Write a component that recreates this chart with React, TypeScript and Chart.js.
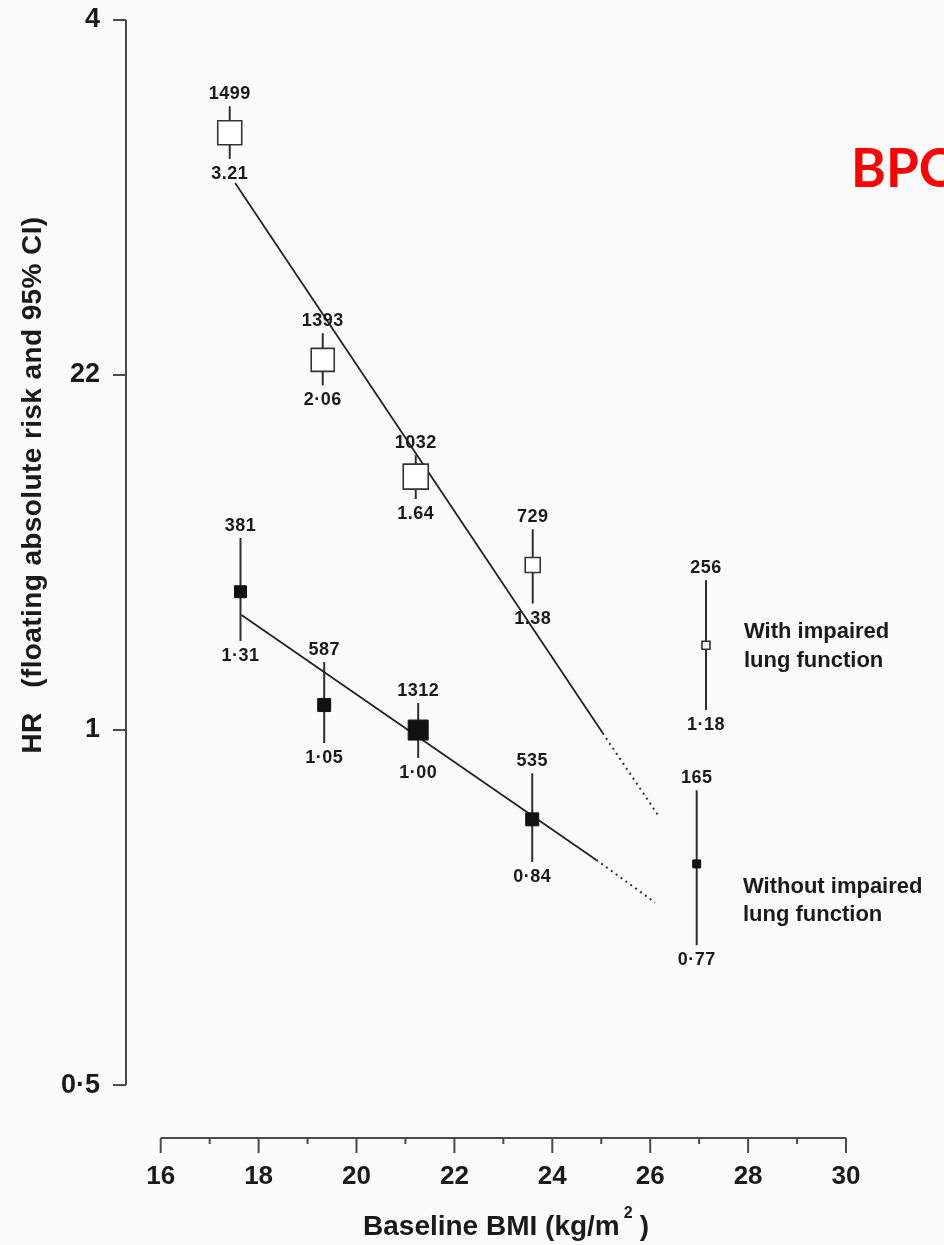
import React, { useEffect, useRef } from 'react';
import { Chart, registerables } from 'chart.js';

Chart.register(...registerables);

// With impaired lung function (open squares)
const bmiImpaired = [17.41, 19.31, 21.21, 23.6, 27.14];
const hrImpaired = [3.21, 2.06, 1.64, 1.38, 1.18];
const lowImpaired = [3.05, 1.96, 1.57, 1.28, 1.04];
const highImpaired = [3.38, 2.17, 1.71, 1.48, 1.34];
const nImpaired = [1499, 1393, 1032, 729, 256];
const hrTextImpaired = ['3.21', '2·06', '1.64', '1.38', '1·18'];

// Without impaired lung function (filled squares)
const bmiNormal = [17.63, 19.34, 21.26, 23.59, 26.95];
const hrNormal = [1.31, 1.05, 1.0, 0.84, 0.77];
const lowNormal = [1.19, 0.975, 0.947, 0.773, 0.657];
const highNormal = [1.455, 1.142, 1.054, 0.919, 0.889];
const nNormal = [381, 587, 1312, 535, 165];
const hrTextNormal = ['1·31', '1·05', '1·00', '0·84', '0·77'];

// Fitted trends: solid over the observed range, dotted extrapolation
const trendImpairedBmi = [17.52, 25.03, 26.16];
const trendImpairedHr = [2.91, 0.994, 0.847];
const trendNormalBmi = [17.65, 24.9, 26.1];
const trendNormalHr = [1.252, 0.776, 0.714];

// Axis ticks
const xTicks = [16, 18, 20, 22, 24, 26, 28, 30];
const xMinorTicks = [17, 19, 21, 23, 25, 27, 29];
const yTicks = [0.5, 1, 2, 4];
const yTickLabels = ['0·5', '1', '22', '4'];

// Marker side lengths (px)
const sideImpaired = [24, 23, 25, 15, 8];
const sideNormal = [12, 13, 20, 13, 8];

const FONT = '"Liberation Sans", Arial, Helvetica, sans-serif';
const INK = '#1a1a1a';
const AXIS = '#4a4a4a';

const points = (bmi: number[], hr: number[], lo: number[], hi: number[], n: number[], txt: string[]) =>
  bmi.map((x, i) => ({ x, y: hr[i], lo: lo[i], hi: hi[i], n: n[i], txt: txt[i] }));

const line = (bmi: number[], hr: number[], from: number, to: number) =>
  bmi.slice(from, to + 1).map((x, i) => ({ x, y: hr[from + i] }));

const decor = {
  id: 'decor',
  beforeDatasetsDraw(chart: any) {
    const { ctx, scales, chartArea } = chart;
    const x = scales.x;
    const y = scales.y;
    ctx.save();
    // confidence-interval whiskers
    ctx.strokeStyle = '#2e2e2e';
    ctx.lineWidth = 2;
    chart.data.datasets.forEach((ds: any) => {
      ds.data.forEach((p: any) => {
        if (p.lo == null) return;
        const px = x.getPixelForValue(p.x);
        ctx.beginPath();
        ctx.moveTo(px, y.getPixelForValue(p.hi));
        ctx.lineTo(px, y.getPixelForValue(p.lo));
        ctx.stroke();
      });
    });

    // y axis: line from 0.5 to 4 with ticks to the left
    const yl = chartArea.left;
    ctx.strokeStyle = AXIS;
    ctx.lineWidth = 2;
    ctx.beginPath();
    ctx.moveTo(yl, y.getPixelForValue(4));
    ctx.lineTo(yl, y.getPixelForValue(0.5));
    ctx.stroke();
    yTicks.forEach((v) => {
      const py = y.getPixelForValue(v);
      ctx.beginPath();
      ctx.moveTo(yl - 13, py);
      ctx.lineTo(yl, py);
      ctx.stroke();
    });

    // detached x axis from 16 to 30
    const xb = chartArea.bottom;
    ctx.beginPath();
    ctx.moveTo(x.getPixelForValue(16), xb);
    ctx.lineTo(x.getPixelForValue(30), xb);
    ctx.stroke();
    xTicks.forEach((v) => {
      const px = x.getPixelForValue(v);
      ctx.beginPath();
      ctx.moveTo(px, xb);
      ctx.lineTo(px, xb + 15);
      ctx.stroke();
    });
    xMinorTicks.forEach((v) => {
      const px = x.getPixelForValue(v);
      ctx.beginPath();
      ctx.moveTo(px, xb);
      ctx.lineTo(px, xb + 6);
      ctx.stroke();
    });
    ctx.restore();
  },
  afterDatasetsDraw(chart: any) {
    const { ctx, scales } = chart;
    const x = scales.x;
    const y = scales.y;
    ctx.save();
    ctx.fillStyle = INK;
    ctx.textAlign = 'center';
    ctx.textBaseline = 'middle';
    ctx.font = `bold 18px ${FONT}`;
    (ctx as any).letterSpacing = '0.5px';
    chart.data.datasets.forEach((ds: any) => {
      ds.data.forEach((p: any) => {
        if (p.lo == null) return;
        const px = x.getPixelForValue(p.x);
        ctx.fillText(String(p.n), px, y.getPixelForValue(p.hi) - 12);
        ctx.fillText(p.txt, px, y.getPixelForValue(p.lo) + 15);
      });
    });
    ctx.restore();
  },
  afterDraw(chart: any) {
    const { ctx } = chart;
    ctx.save();
    ctx.fillStyle = INK;

    // y title
    ctx.save();
    ctx.translate(33, 485);
    ctx.rotate(-Math.PI / 2);
    ctx.textAlign = 'center';
    ctx.textBaseline = 'middle';
    ctx.font = `bold 28px ${FONT}`;
    (ctx as any).letterSpacing = '0.4px';
    ctx.fillText('HR   (floating absolute risk and 95% CI)', 0, 0);
    ctx.restore();

    // x title with superscript
    const main = 'Baseline BMI (kg/m';
    ctx.font = `bold 28px ${FONT}`;
    const wMain = ctx.measureText(main).width;
    ctx.font = `bold 16px ${FONT}`;
    const wSup = ctx.measureText('2').width;
    ctx.font = `bold 28px ${FONT}`;
    const wClose = ctx.measureText(')').width;
    const total = wMain + 4 + wSup + 7 + wClose;
    let sx = 506 - total / 2;
    const base = 1235;
    ctx.textAlign = 'left';
    ctx.textBaseline = 'alphabetic';
    ctx.fillText(main, sx, base);
    sx += wMain + 4;
    ctx.font = `bold 16px ${FONT}`;
    ctx.fillText('2', sx, base - 17);
    sx += wSup + 7;
    ctx.font = `bold 28px ${FONT}`;
    ctx.fillText(')', sx, base);

    // series annotations
    ctx.font = `bold 22px ${FONT}`;
    ctx.textBaseline = 'middle';
    ctx.fillText('With impaired', 744, 632);
    ctx.fillText('lung function', 744, 661);
    ctx.fillText('Without impaired', 743, 887);
    ctx.fillText('lung function', 743, 915);

    // corner tag
    ctx.fillStyle = '#ff0000';
    ctx.font = `bold 53px Lato, "Open Sans", sans-serif`;
    ctx.textBaseline = 'alphabetic';
    ctx.fillText('BPC', 851, 187);
    ctx.restore();
  },
};

export default function App() {
  const ref = useRef<HTMLCanvasElement>(null);

  useEffect(() => {
    const canvas = ref.current;
    if (!canvas) return;
    const chart = new Chart(canvas, {
      type: 'scatter',
      data: {
        datasets: [
          {
            label: 'With impaired lung function',
            data: points(bmiImpaired, hrImpaired, lowImpaired, highImpaired, nImpaired, hrTextImpaired),
            pointStyle: 'rect',
            pointRadius: sideImpaired.map((s) => (s / 2) * Math.SQRT2),
            backgroundColor: '#ffffff',
            borderColor: '#333333',
            borderWidth: 1.6,
            showLine: false,
            order: 0,
          },
          {
            label: 'Without impaired lung function',
            data: points(bmiNormal, hrNormal, lowNormal, highNormal, nNormal, hrTextNormal),
            pointStyle: 'rect',
            pointRadius: sideNormal.map((s) => (s / 2) * Math.SQRT2),
            backgroundColor: '#111111',
            borderColor: '#111111',
            borderWidth: 1,
            showLine: false,
            order: 0,
          },
          {
            label: 'trend impaired',
            data: line(trendImpairedBmi, trendImpairedHr, 0, 1),
            showLine: true,
            borderColor: '#222222',
            borderWidth: 1.8,
            pointRadius: 0,
            order: 2,
          },
          {
            label: 'trend impaired extrapolated',
            data: line(trendImpairedBmi, trendImpairedHr, 1, 2),
            showLine: true,
            borderColor: '#333333',
            borderWidth: 2,
            borderDash: [2, 4],
            pointRadius: 0,
            order: 2,
          },
          {
            label: 'trend normal',
            data: line(trendNormalBmi, trendNormalHr, 0, 1),
            showLine: true,
            borderColor: '#222222',
            borderWidth: 1.8,
            pointRadius: 0,
            order: 2,
          },
          {
            label: 'trend normal extrapolated',
            data: line(trendNormalBmi, trendNormalHr, 1, 2),
            showLine: true,
            borderColor: '#333333',
            borderWidth: 2,
            borderDash: [2, 4],
            pointRadius: 0,
            order: 2,
          },
        ] as any,
      },
      options: {
        responsive: false,
        animation: false,
        devicePixelRatio: 1,
        events: [],
        layout: { padding: { top: 20, right: 98, bottom: 0, left: 0 } },
        plugins: {
          legend: { display: false },
          tooltip: { enabled: false },
        },
        scales: {
          x: {
            type: 'linear',
            min: 15.291,
            max: 30,
            grid: { display: false, drawTicks: false, tickLength: 0 },
            border: { display: false },
            afterFit: (s: any) => {
              s.height = 107;
              s.paddingLeft = 0;
              s.paddingRight = 0;
            },
            afterBuildTicks: (s: any) => {
              s.ticks = xTicks.map((v) => ({ value: v }));
            },
            ticks: {
              padding: 23,
              color: INK,
              font: { family: FONT, size: 26, weight: 'bold' },
              maxRotation: 0,
              autoSkip: false,
              callback: (v: any) => String(v),
            },
          },
          y: {
            type: 'logarithmic',
            min: 0.4509,
            max: 4,
            grid: { display: false, drawTicks: false, tickLength: 0 },
            border: { display: false },
            afterFit: (s: any) => {
              s.width = 126;
              s.paddingTop = 0;
              s.paddingBottom = 0;
            },
            afterBuildTicks: (s: any) => {
              s.ticks = yTicks.map((v) => ({ value: v }));
            },
            ticks: {
              padding: 26,
              color: INK,
              font: { family: FONT, size: 27, weight: 'bold' },
              autoSkip: false,
              callback: (_v: any, i: number) => yTickLabels[i],
            },
          },
        },
      } as any,
      plugins: [decor],
    });
    return () => chart.destroy();
  }, []);

  return (
    <div
      style={{
        position: 'absolute',
        left: 0,
        top: 0,
        width: 944,
        height: 1245,
        background: '#fbfbfb',
        overflow: 'hidden',
      }}
    >
      <canvas ref={ref} width={944} height={1245} style={{ display: 'block' }} />
    </div>
  );
}
